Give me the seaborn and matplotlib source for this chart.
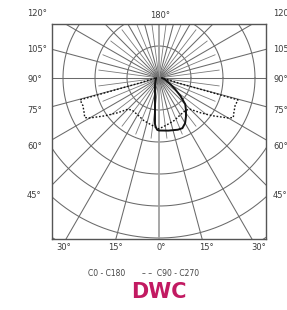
import numpy as np
import pandas as pd
import matplotlib
matplotlib.use('Agg')
import matplotlib.pyplot as plt
import seaborn as sns

# luminous intensity per gamma angle (one grid ring = 100)
gamma_c0 = [0, 10, 20, 25, 30, 35, 40, 45, 50, 55, 60, 70, 80, 90]
int_c0 = [164, 167, 172, 173, 163, 147, 131, 116, 88, 62, 44, 25, 16, 9]
gamma_c180 = [0, 2, 4, 5, 7, 10, 15, 20, 30, 45, 60, 90]
int_c180 = [164, 162, 153, 144, 103, 72, 48, 37, 25, 16, 12, 9]
gamma_c90 = [0, 10, 20, 30, 40, 45, 50, 55, 60, 62, 65, 70, 74.5, 75.5, 80, 90]
int_c90 = [159, 148, 141, 133, 131, 138, 169, 206, 250, 263, 258, 253, 256, 62, 25, 12]

side_angles = [45, 60, 75, 90, 105, 120]
side_labels = ['45°', '60°', '75°', '90°', '105°', '120°']
bottom_angles = [-30, -15, 0, 15, 30]
bottom_labels = ['30°', '15°', '0°', '15°', '30°']
top_label = '180°'
legend_labels = ['C0 - C180', '– –  C90 - C270']
title = 'DWC'

sns.set_style('white')
plt.rcParams['font.family'] = ['DejaVu Sans']

W, H = 287, 310
PX = 0.32  # pixels per intensity unit


def to_xy(gamma, inten, side):
    g = np.radians(gamma)
    r = np.array(inten, dtype=float)
    return side * r * np.sin(g), -r * np.cos(g)


def curve_df(g_left, i_left, g_right, i_right):
    xl, yl = to_xy(g_left, i_left, -1)
    xr, yr = to_xy(g_right, i_right, 1)
    x = np.concatenate([xl[::-1], xr])
    y = np.concatenate([yl[::-1], yr])
    return pd.DataFrame({'x': x, 'y': y})


fig = plt.figure(figsize=(W / 100, H / 100), dpi=100)
fig.patch.set_facecolor('white')
ax = fig.add_axes([52 / W, 1 - 239 / H, 214 / W, 215 / H])
ax.set_xlim(-107 / PX, 107 / PX)
ax.set_ylim(-161 / PX, 54 / PX)

# grid: rings and rays
th = np.linspace(0, 2 * np.pi, 500)
for r in np.arange(1, 7) * 100:
    ax.plot(r * np.cos(th), r * np.sin(th), color='#6a6a6a', lw=0.75, zorder=1)
for a in np.arange(0, 360, 7.5):
    rad = np.radians(a)
    if a % 180 == 0:
        ax.plot([0, 800 * np.sin(rad)], [0, -800 * np.cos(rad)], color='#a0a0a0', lw=1.3, zorder=1)
    elif a % 15 == 0:
        ax.plot([0, 800 * np.sin(rad)], [0, -800 * np.cos(rad)], color='#6a6a6a', lw=0.75, zorder=1)
    else:
        ax.plot([0, 190 * np.sin(rad)], [0, -190 * np.cos(rad)], color='#7a7a7a', lw=0.6, zorder=1)

solid = curve_df(gamma_c180, int_c180, gamma_c0, int_c0)
dashed = curve_df(gamma_c90, int_c90, gamma_c90, int_c90)
sns.lineplot(data=solid, x='x', y='y', sort=False, estimator=None, color='#111111',
             lw=1.4, ax=ax, zorder=3)
sns.lineplot(data=dashed, x='x', y='y', sort=False, estimator=None, color='#111111',
             lw=1.0, linestyle=(0, (1.2, 1.3)), ax=ax, zorder=3)

ax.set(xlabel='', ylabel='', xticks=[], yticks=[])
for s in ax.spines.values():
    s.set_visible(True)
    s.set_color('#555555')
    s.set_linewidth(1.0)

# angle labels
lab_kw = dict(fontsize=6, color='#3c3c3c', va='center', clip_on=False)
xl_left = -(159 - 27) / PX
xl_right = (273 - 159) / PX
for a, t in zip(side_angles, side_labels):
    y = -(115 / PX) / np.tan(np.radians(a)) - 2 / PX
    ax.text(xl_left, y, t, ha='left', **lab_kw)
    ax.text(xl_right, y, t, ha='left', **lab_kw)
for a, t in zip(bottom_angles, bottom_labels):
    yb = -169 / PX
    ax.text(-yb * np.tan(np.radians(a)) + 2 / PX, yb, t, ha='center', **lab_kw)
ax.text(1 / PX, 63 / PX, top_label, ha='center', **lab_kw)

# legend and title
fig.text(107 / W, 1 - 273 / H, legend_labels[0], fontsize=5.5, color='#444444',
         ha='center', va='center')
fig.text(171 / W, 1 - 273 / H, legend_labels[1], fontsize=5.5, color='#444444',
         ha='center', va='center')
fig.text(159 / W, 1 - 292.5 / H, title, fontsize=15, fontweight='bold', color='#C21A62',
         ha='center', va='center')

fig.savefig('out.png', dpi=100)
